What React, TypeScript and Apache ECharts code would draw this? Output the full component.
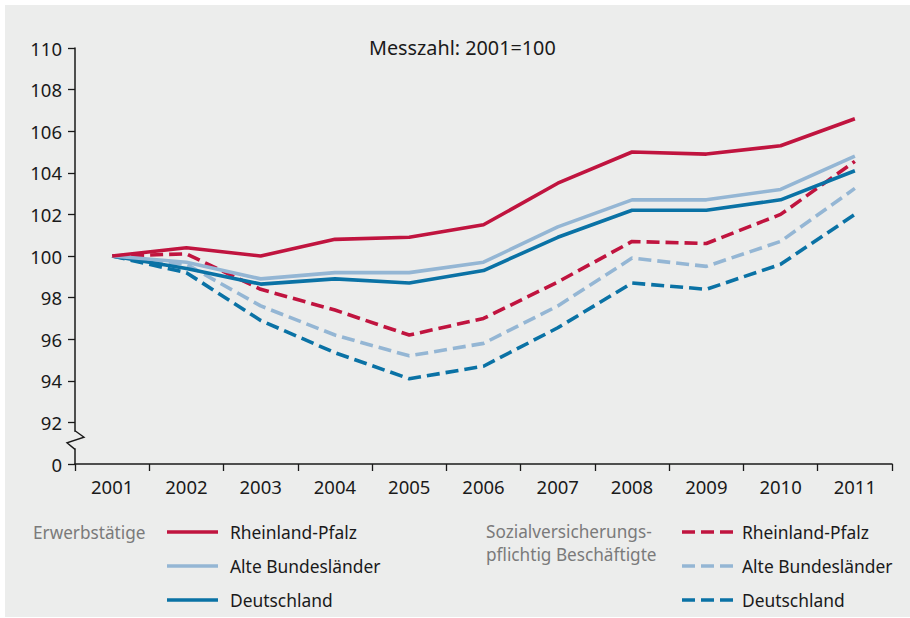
import React, { useEffect, useRef } from "react";
import * as echarts from "echarts";

const years = ["2001", "2002", "2003", "2004", "2005", "2006", "2007", "2008", "2009", "2010", "2011"];

const erwRP = [100, 100.4, 100.0, 100.8, 100.9, 101.5, 103.5, 105.0, 104.9, 105.3, 106.6];
const erwABL = [100, 99.7, 98.9, 99.2, 99.2, 99.7, 101.4, 102.7, 102.7, 103.2, 104.8];
const erwD = [100, 99.4, 98.65, 98.9, 98.7, 99.3, 100.9, 102.2, 102.2, 102.7, 104.1];
const svRP = [100, 100.1, 98.4, 97.4, 96.2, 97.0, 98.75, 100.7, 100.6, 102.0, 104.55];
const svABL = [100, 99.6, 97.6, 96.2, 95.2, 95.8, 97.6, 99.9, 99.5, 100.7, 103.25];
const svD = [100, 99.2, 96.9, 95.35, 94.1, 94.7, 96.55, 98.7, 98.4, 99.6, 102.0];

const yTicks = [90, 92, 94, 96, 98, 100, 102, 104, 106, 108, 110];
const yTickLabels = ["0", "92", "94", "96", "98", "100", "102", "104", "106", "108", "110"];

const groupLabels = ["Erwerbstätige", "Sozialversicherungs-\npflichtig Beschäftigte"];
const regionNames = ["Rheinland-Pfalz", "Alte Bundesländer", "Deutschland"];
const colors = ["#c0143f", "#94b6d4", "#0a72a5"];
const titleText = "Messzahl: 2001=100";

const FONT = "'Noto Sans', 'Open Sans', sans-serif";

export default function App() {
  const ref = useRef<HTMLDivElement>(null);
  useEffect(() => {
    if (!ref.current) return;
    const chart = echarts.init(ref.current, undefined, { renderer: "svg" });
    const solid = [erwRP, erwABL, erwD];
    const dashed = [svRP, svABL, svD];
    const series: any[] = [];
    solid.forEach((d, i) => {
      series.push({
        name: "Erwerbstätige – " + regionNames[i],
        type: "line",
        data: d,
        symbol: "none",
        lineStyle: { color: colors[i], width: 3.6, type: "solid" },
        z: 10 - i,
      });
    });
    dashed.forEach((d, i) => {
      series.push({
        name: "SV-Beschäftigte – " + regionNames[i],
        type: "line",
        data: d,
        symbol: "none",
        lineStyle: { color: colors[i], width: 3.6, type: [13, 6] },
        z: 7 - i,
      });
    });

    const legendGraphics: any[] = [];
    const rowY = [532, 566, 600];
    const cols = [
      { labelX: 33, lineX: 167, textX: 230, dash: null as any },
      { labelX: 486, lineX: 682, textX: 742, dash: [13, 6] },
    ];
    cols.forEach((c, gi) => {
      legendGraphics.push({
        type: "text",
        x: c.labelX,
        y: gi === 0 ? rowY[0] : rowY[0] - 12,
        style: {
          text: groupLabels[gi],
          font: `17.2px ${FONT}`,
          fill: "#7a7a7a",
          verticalAlign: gi === 0 ? "middle" : "top",
          lineHeight: 23,
        },
      });
      regionNames.forEach((n, ri) => {
        legendGraphics.push({
          type: "line",
          shape: { x1: c.lineX, y1: rowY[ri], x2: c.lineX + 51, y2: rowY[ri] },
          style: { stroke: colors[ri], lineWidth: 3.6, lineDash: c.dash },
        });
        legendGraphics.push({
          type: "text",
          x: c.textX,
          y: rowY[ri],
          style: {
            text: n,
            font: `17.4px ${FONT}`,
            fill: "#1a1a1a",
            verticalAlign: "middle",
          },
        });
      });
    });

    const option: any = {
      animation: false,
      backgroundColor: "#ffffff",
      textStyle: { fontFamily: FONT },
      title: {
        text: titleText,
        left: 364,
        top: 32,
        textStyle: { fontSize: 19.8, fontWeight: "normal", color: "#1a1a1a", fontFamily: FONT },
      },
      grid: { left: 75, right: 18, top: 48, bottom: 154 },
      xAxis: {
        type: "category",
        data: years,
        boundaryGap: true,
        axisLine: { lineStyle: { color: "#1a1a1a", width: 1.5 } },
        axisTick: { show: true, length: 7, lineStyle: { color: "#1a1a1a", width: 1.3 } },
        axisLabel: { color: "#1a1a1a", fontSize: 18.5, margin: 13, fontFamily: FONT },
        splitLine: { show: false },
      },
      yAxis: {
        type: "value",
        min: yTicks[0],
        max: yTicks[yTicks.length - 1],
        interval: 2,
        axisLine: { show: true, lineStyle: { color: "#1a1a1a", width: 1.5 } },
        axisTick: { show: true, length: 7, lineStyle: { color: "#1a1a1a", width: 1.3 } },
        axisLabel: {
          color: "#1a1a1a",
          fontSize: 18.5,
          margin: 13,
          fontFamily: FONT,
          formatter: (v: number) => {
            const idx = yTicks.indexOf(v);
            return idx >= 0 ? yTickLabels[idx] : "";
          },
        },
        splitLine: { show: false },
      },
      series,
      graphic: [
        {
          type: "rect",
          z: -100,
          silent: true,
          shape: { x: 5, y: 5, width: 905, height: 612 },
          style: { fill: "#ecedec" },
        },
        ...legendGraphics,
      ],
    };
    chart.setOption(option);

    const yTop = chart.convertToPixel({ yAxisIndex: 0 }, 91.55) as number;
    const yBot = chart.convertToPixel({ yAxisIndex: 0 }, 90.75) as number;
    const ax = 75;
    const h = yBot - yTop;
    chart.setOption({
      graphic: [
        ...option.graphic,
        {
          type: "rect",
          z: 50,
          shape: { x: ax - 3, y: yTop, width: 6, height: h },
          style: { fill: "#ecedec" },
        },
        {
          type: "polyline",
          z: 51,
          shape: {
            points: [
              [ax, yTop - 1],
              [ax + 9, yTop + h * 0.33],
              [ax - 8, yTop + h * 0.66],
              [ax, yBot + 1],
            ],
          },
          style: { stroke: "#1a1a1a", lineWidth: 1.4, fill: null },
        },
      ],
    });

    return () => chart.dispose();
  }, []);
  return (
    <div
      ref={ref}
      style={{ position: "fixed", left: 0, top: 0, width: 910, height: 618 }}
    />
  );
}
